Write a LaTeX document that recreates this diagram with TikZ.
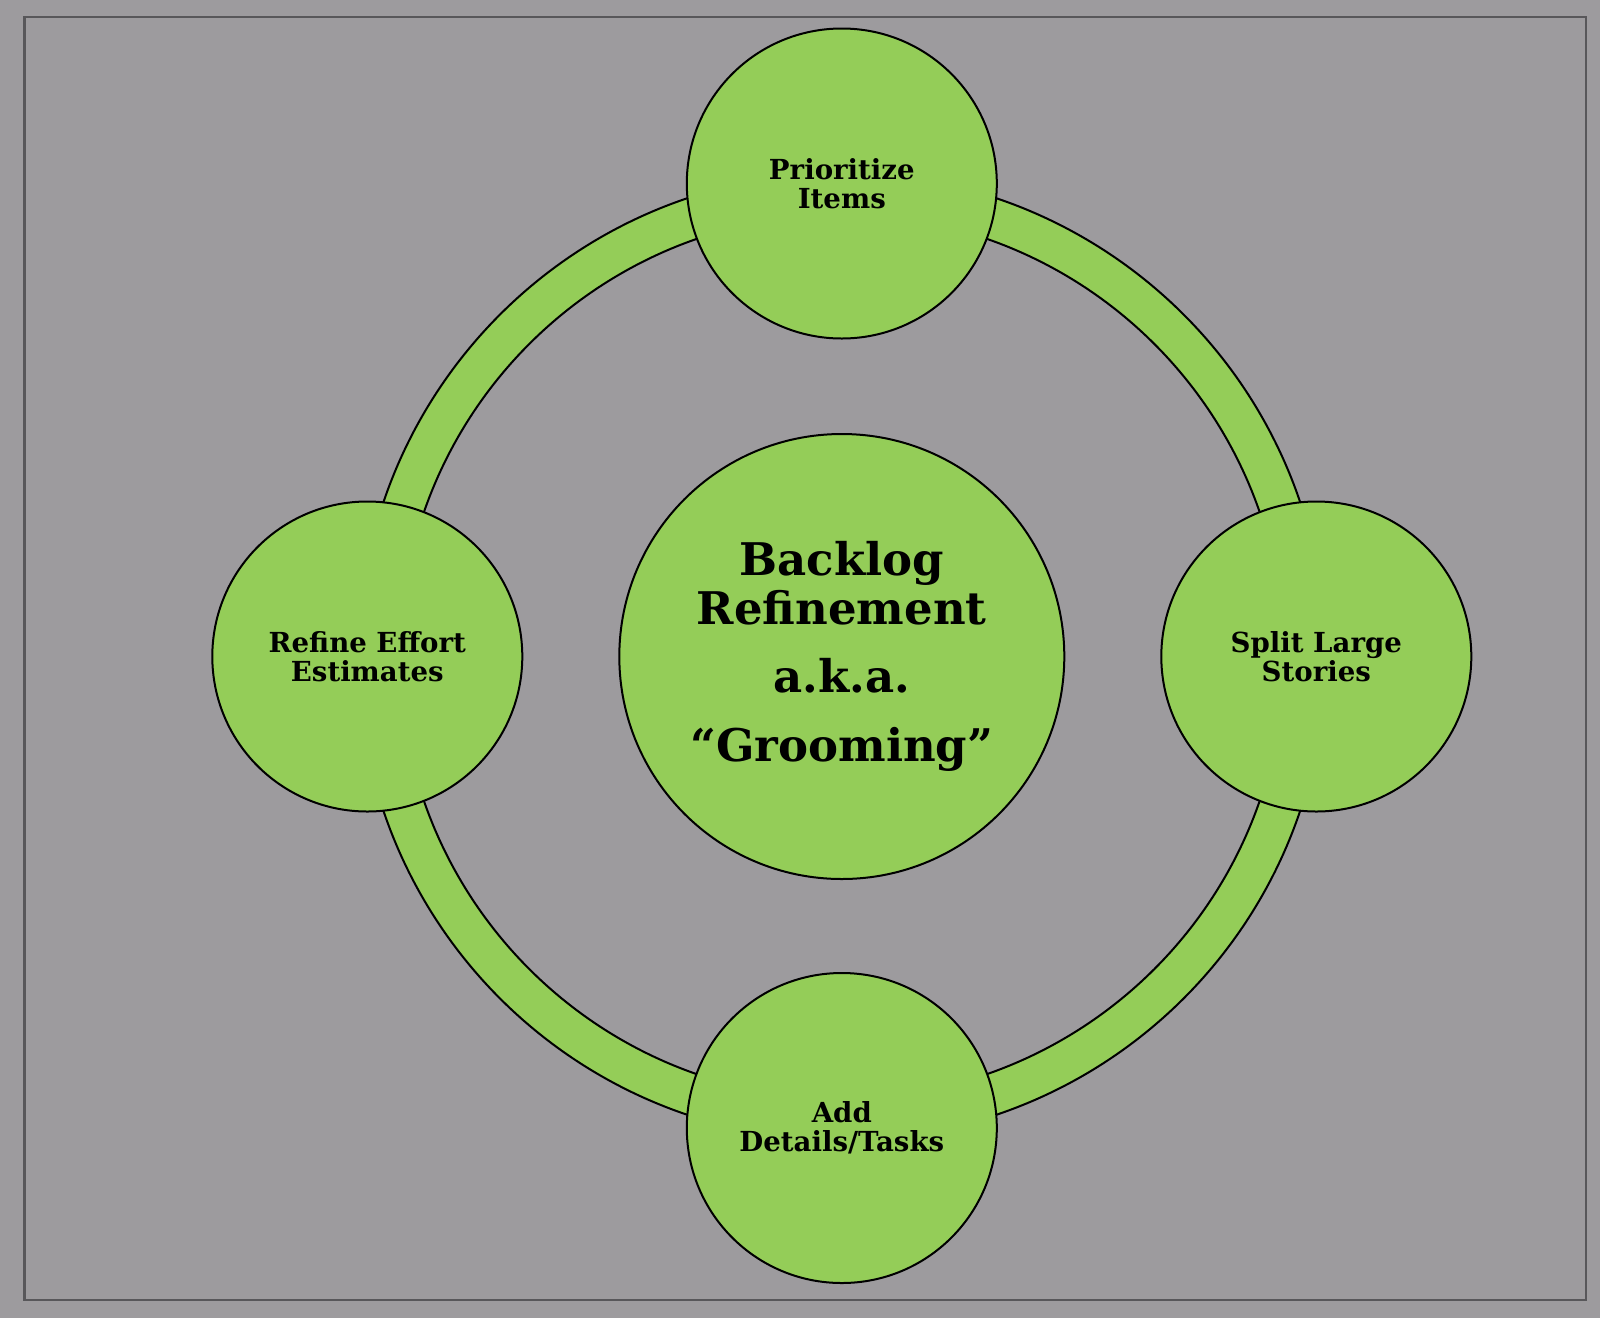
\documentclass[tikz,border=0pt]{standalone}
\usepackage{fontspec}
\setmainfont{DejaVu Serif}
\definecolor{bggray}{RGB}{157,155,158}
\definecolor{framegray}{RGB}{88,87,90}
\definecolor{leafgreen}{RGB}{148,205,88}

\begin{document}
\begin{tikzpicture}[x=1pt, y=-1pt, bubble/.style={circle, draw=black, line width=2pt, fill=leafgreen, inner sep=0pt, align=center, minimum size=310pt, font=\fontsize{27.6}{29.5}\selectfont\bfseries}, hub/.style={bubble, minimum size=445pt, font=\fontsize{45}{48.5}\selectfont\bfseries}]

% background and frame
\fill[bggray] (0,0) rectangle (1600,1318);
\draw[framegray, line width=2.5pt] (24.5,17) rectangle (1586,1300);

% ring behind the bubbles
\coordinate (C) at (841.8,656.5);
\fill[leafgreen, even odd rule] (C) circle[radius=483.5] (C) circle[radius=442];
\draw[line width=2pt] (C) circle[radius=483.5] (C) circle[radius=442];

\node[hub] (hub) at (C) {Backlog\\Refinement\\[20pt]a.k.a.\\[20pt]“Grooming”};
\node[bubble] (prio) at (841.8,183.5) {Prioritize\\Items};
\node[bubble] (split) at (1316.3,656.5) {Split Large\\Stories};
\node[bubble] (add) at (841.8,1128) {Add\\Details/Tasks};
\node[bubble] (refine) at (367.3,656.5) {Refine Effort\\Estimates};
\end{tikzpicture}
\end{document}
